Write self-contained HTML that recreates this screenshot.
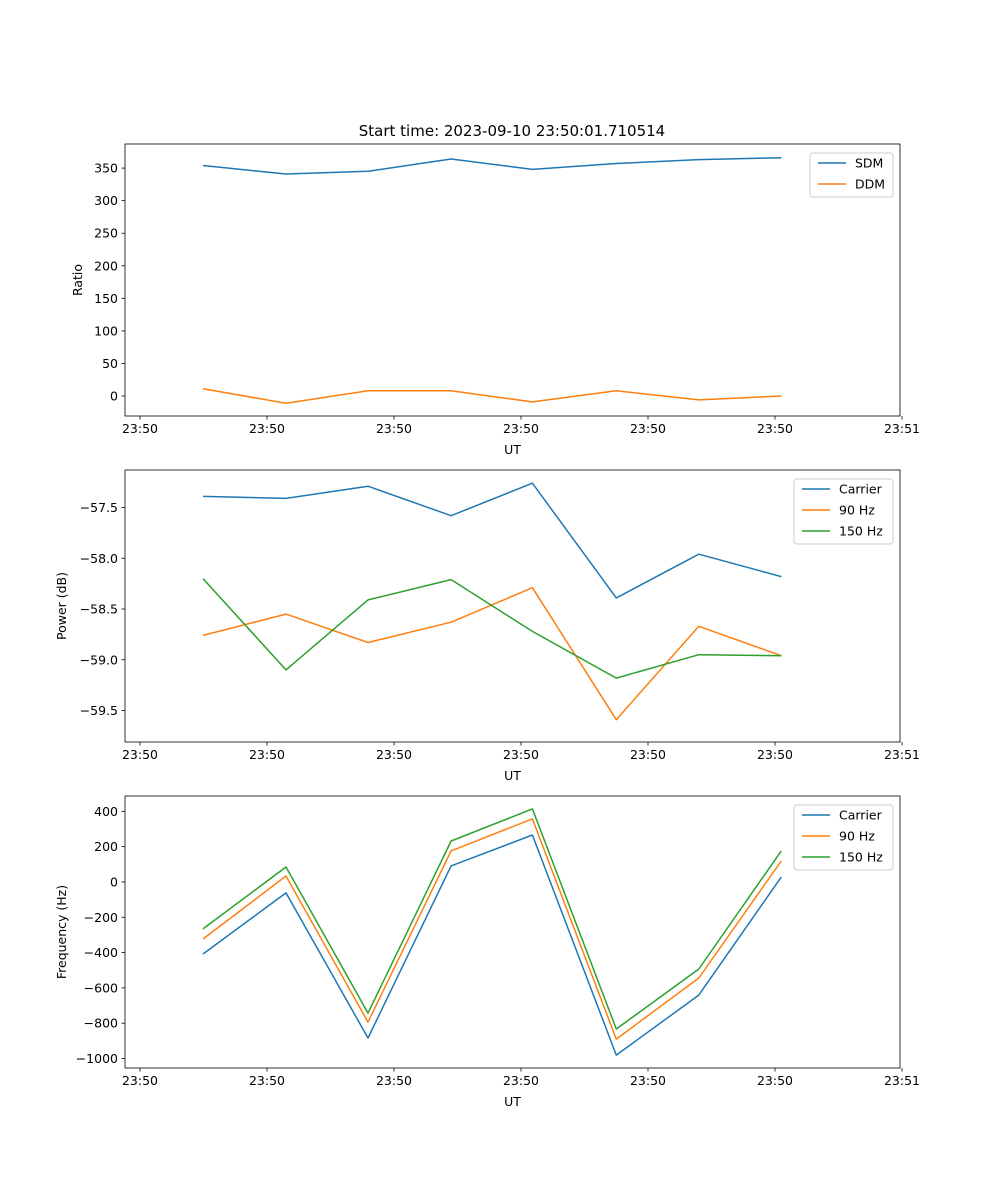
<!DOCTYPE html>
<html><head><meta charset="utf-8">
<style>
html,body{margin:0;padding:0;background:#fff;}
svg{display:block;font-family:"DejaVu Sans","Liberation Sans",sans-serif;}
</style></head>
<body>
<svg id="fig" width="1000" height="1200" viewBox="0 0 1000 1200" xmlns="http://www.w3.org/2000/svg">
<rect width="1000" height="1200" fill="#fff"/>
<text x="512" y="136" font-size="15" text-anchor="middle">Start time: 2023-09-10 23:50:01.710514</text>
</svg>
<script>
// shared x data (seconds after 23:50:00)
const xTimes = [4.96, 11.5, 17.95, 24.5, 30.9, 37.5, 44.0, 50.5];
const xTickVals = [0, 10, 20, 30, 40, 50, 60];
const xTickLabels = ["23:50","23:50","23:50","23:50","23:50","23:50","23:51"];

// panel 1
const ratioTicks = [0, 50, 100, 150, 200, 250, 300, 350];
const sdmValues = [354, 341, 345, 364, 348, 357, 363, 366];
const ddmValues = [11, -11, 8, 8, -9, 8, -6, 0];
// panel 2
const powerTicks = [-57.5, -58.0, -58.5, -59.0, -59.5];
const powerTickLabels = ["\u221257.5","\u221258.0","\u221258.5","\u221259.0","\u221259.5"];
const powerCarrier = [-57.39, -57.41, -57.29, -57.58, -57.26, -58.39, -57.96, -58.18];
const power90 = [-58.76, -58.55, -58.83, -58.63, -58.29, -59.59, -58.67, -58.96];
const power150 = [-58.2, -59.10, -58.41, -58.21, -58.72, -59.18, -58.95, -58.96];
// panel 3
const freqTicks = [400, 200, 0, -200, -400, -600, -800, -1000];
const freqTickLabels = ["400","200","0","\u2212200","\u2212400","\u2212600","\u2212800","\u22121000"];
const freqCarrier = [-408, -62, -884, 91, 266, -981, -641, 28];
const freq90 = [-323, 34, -794, 176, 357, -890, -544, 119];
const freq150 = [-266, 85, -743, 232, 414, -833, -493, 176];

const NS = "http://www.w3.org/2000/svg";
const svg = document.getElementById("fig");
const L = 125, R = 900;
const FS = 12.5;
function xs(t){ return 140 + t * 12.7; }
function mk(tag, attrs, parent){
  const e = document.createElementNS(NS, tag);
  for (const k in attrs) e.setAttribute(k, attrs[k]);
  (parent || svg).appendChild(e);
  return e;
}
const C = ["#1f77b4", "#ff7f0e", "#2ca02c"];

function panel(name, top, bottom, yMin, yMax, yTicks, yTickLabels, yTitle, series, legend){
  const g = mk("g", {});
  
  
  const ys = v => bottom - (v - yMin) / (yMax - yMin) * (bottom - top);
  series.forEach((s, i) => {
    const pts = s.vals.map((v, j) => xs(xTimes[j]).toFixed(1) + "," + ys(v).toFixed(1)).join(" ");
    const pl = mk("polyline", {points: pts, fill: "none", stroke: C[i], "stroke-width": 1.5, "stroke-linejoin": "round"}, g);
    
    
  });
  const fr = mk("rect", {x: L, y: top, width: R - L, height: bottom - top, fill: "none", stroke: "#000", "stroke-width": 0.8}, g);
  
  
  xTickVals.forEach((t, i) => {
    const x = xs(t);
    mk("line", {x1: x, x2: x, y1: bottom, y2: bottom + 3.5, stroke: "#000", "stroke-width": 0.8}, g);
    const tx = mk("text", {x: x, y: bottom + 17, "font-size": FS, "text-anchor": "middle"}, g);
    tx.textContent = xTickLabels[i];
    
    
  });
  const xl = mk("text", {x: (L + R) / 2, y: bottom + 38, "font-size": FS, "text-anchor": "middle"}, g);
  xl.textContent = "UT";
  
  
  let maxW = 0;
  yTicks.forEach((v, i) => {
    const y = ys(v);
    mk("line", {x1: L - 3.5, x2: L, y1: y, y2: y, stroke: "#000", "stroke-width": 0.8}, g);
    const tx = mk("text", {x: L - 7, y: y + 4.5, "font-size": FS, "text-anchor": "end"}, g);
    tx.textContent = yTickLabels[i];
    
    
    maxW = Math.max(maxW, yTickLabels[i].length);
  });
  const yx = L - 10 - maxW * 8.0 - 9;
  const yl = mk("text", {x: yx, y: (top + bottom) / 2, "font-size": FS, "text-anchor": "middle", transform: "rotate(-90 " + yx + " " + (top + bottom) / 2 + ")"}, g);
  yl.textContent = yTitle;
  
  
  const lg = mk("g", {}, g);
  
  
  mk("rect", {x: legend.x, y: top + 9, width: R - 7 - legend.x, height: 21 * series.length + 2, rx: 3, fill: "#fff", stroke: "#ccc", "stroke-width": 1}, lg);
  series.forEach((s, i) => {
    const y = top + 19 + 21 * i;
    mk("line", {x1: legend.x + 8, x2: legend.x + 36, y1: y, y2: y, stroke: C[i], "stroke-width": 1.5}, lg);
    const tx = mk("text", {x: legend.x + 45, y: y + 4.5, "font-size": FS}, lg);
    tx.textContent = s.label;
    
    
  });
}

panel("ratio-panel", 144, 416, -30.7, 387, ratioTicks, ratioTicks.map(String), "Ratio",
  [{key: "sdm", label: "SDM", vals: sdmValues}, {key: "ddm", label: "DDM", vals: ddmValues}], {x: 810});
panel("power-panel", 470, 742, -59.81, -57.13, powerTicks, powerTickLabels, "Power (dB)",
  [{key: "carrier", label: "Carrier", vals: powerCarrier}, {key: "90hz", label: "90 Hz", vals: power90}, {key: "150hz", label: "150 Hz", vals: power150}], {x: 794});
panel("frequency-panel", 796, 1068, -1054, 487, freqTicks, freqTickLabels, "Frequency (Hz)",
  [{key: "carrier", label: "Carrier", vals: freqCarrier}, {key: "90hz", label: "90 Hz", vals: freq90}, {key: "150hz", label: "150 Hz", vals: freq150}], {x: 794});
</script>
</body></html>
